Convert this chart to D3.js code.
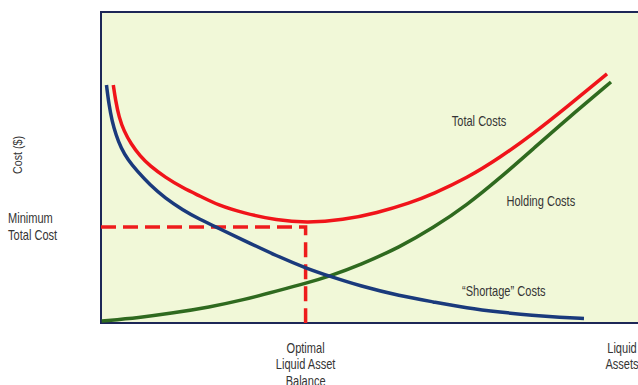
<!DOCTYPE html>
<html>
<head>
<meta charset="utf-8">
<script src="https://cdn.jsdelivr.net/npm/d3@7/dist/d3.min.js"></script>
<style>
  html, body { margin: 0; padding: 0; background: #fff; overflow: hidden; }
  svg text { font-family: "Liberation Sans", Arial, sans-serif; fill: #353535; }
</style>
</head>
<body>
<svg id="chart" width="638" height="385"></svg>
<script>
// Liquid assets (0–100) against cost (0–100), conceptual units
const shortageCosts = [
  [1.02, 76.5], [1.49, 70.1], [2.05, 65.0], [2.79, 60.5], [3.72, 56.3], [5.03, 52.4],
  [6.70, 48.9], [9.12, 44.4], [11.92, 40.2], [15.27, 36.3], [18.44, 33.3], [21.60, 30.7],
  [26.44, 26.7], [32.77, 21.5], [38.36, 17.5], [42.64, 15.0], [48.23, 11.9], [55.68, 8.7],
  [61.82, 6.8], [68.16, 4.8], [74.30, 3.5], [80.45, 2.4], [85.47, 1.8], [89.94, 1.45]
];
const holdingCosts = [
  [0.13, 0.64], [7.26, 1.77], [12.85, 3.05], [20.30, 5.14], [26.44, 7.40], [32.77, 10.29],
  [38.36, 12.86], [42.64, 15.11], [48.23, 18.65], [55.68, 24.44], [61.82, 30.55],
  [68.16, 37.94], [74.30, 46.62], [80.45, 55.95], [86.78, 65.59], [94.97, 77.49]
];
const totalCosts = [
  [2.29, 76.5], [2.70, 71.7], [3.35, 66.2], [4.28, 61.7], [5.59, 57.6], [7.26, 53.7],
  [9.12, 50.5], [11.92, 46.9], [15.27, 43.4], [18.44, 40.8], [21.79, 37.9], [26.44, 35.4],
  [32.77, 33.0], [38.36, 32.2], [45.07, 33.1], [51.40, 35.4], [57.54, 38.6], [61.82, 41.5],
  [68.16, 46.6], [74.30, 53.2], [80.45, 60.8], [86.78, 69.5], [94.23, 80.1]
];
const optimalBalance = 38.1;   // liquid asset level at the cost minimum
const minimumTotalCost = 30.9; // cost level marked by the dashed guide

const curveLabels = [
  { text: "Total Costs", x: 70.4, y: 63.3 },
  { text: "Holding Costs", x: 81.9, y: 37.6 },
  { text: "\u201CShortage\u201D Costs", x: 75.0, y: 8.7 }
];

const svg = d3.select("#chart");
const plot = { left: 101, top: 12, right: 638, bottom: 323 };

const x = d3.scaleLinear().domain([0, 100]).range([plot.left, plot.right]);
const y = d3.scaleLinear().domain([0, 100]).range([plot.bottom, plot.top]);

// condensed lettering: regular face squeezed horizontally
const NARROW = 0.79;
function label(sel, px, py, lines, opts = {}) {
  const g = sel.append("g").attr("transform", `translate(${px},${py})${opts.rotate ? " rotate(-90)" : ""} scale(${NARROW},1)`);
  lines.forEach((t, i) =>
    g.append("text")
      .attr("x", 0)
      .attr("y", i * (opts.lead || 16.5))
      .attr("text-anchor", opts.anchor || "start")
      .attr("font-size", opts.size || 14)
      .text(t));
  return g;
}

// plot panel (right edge runs off the page)
svg.append("rect")
  .attr("x", plot.left).attr("y", plot.top)
  .attr("width", plot.right - plot.left + 20)
  .attr("height", plot.bottom - plot.top)
  .attr("fill", "#f1f8d8")
  .attr("stroke", "#1d2757")
  .attr("stroke-width", 2);

const line = d3.line()
  .x(d => x(d[0]))
  .y(d => y(d[1]))
  .curve(d3.curveBasis);

// dashed guides at the optimum
svg.append("path")
  .attr("d", d3.line()([[x(0), y(minimumTotalCost)], [x(optimalBalance), y(minimumTotalCost)], [x(optimalBalance), y(0)]]))
  .attr("fill", "none")
  .attr("stroke", "#ee1c1c")
  .attr("stroke-width", 3.5)
  .attr("stroke-dasharray", "15,7");

const series = [
  { data: holdingCosts, color: "#2f6a1f" },
  { data: shortageCosts, color: "#1a3a7c" },
  { data: totalCosts, color: "#f0141a" }
];
svg.selectAll("path.curve")
  .data(series)
  .join("path")
  .attr("class", "curve")
  .attr("d", d => line(d.data))
  .attr("fill", "none")
  .attr("stroke", d => d.color)
  .attr("stroke-width", 3.5);

curveLabels.forEach(d => label(svg, x(d.x), y(d.y), [d.text], { anchor: "middle" }));

// axis titles
label(svg, 22, 155, ["Cost ($)"], { anchor: "middle", rotate: true, size: 13.5 });
label(svg, 8, 223, ["Minimum", "Total Cost"], { lead: 17 });
label(svg, x(optimalBalance), 353, ["Optimal", "Liquid Asset", "Balance"], { anchor: "middle" });
label(svg, 622, 353, ["Liquid", "Assets"], { anchor: "middle" });
</script>
</body>
</html>
